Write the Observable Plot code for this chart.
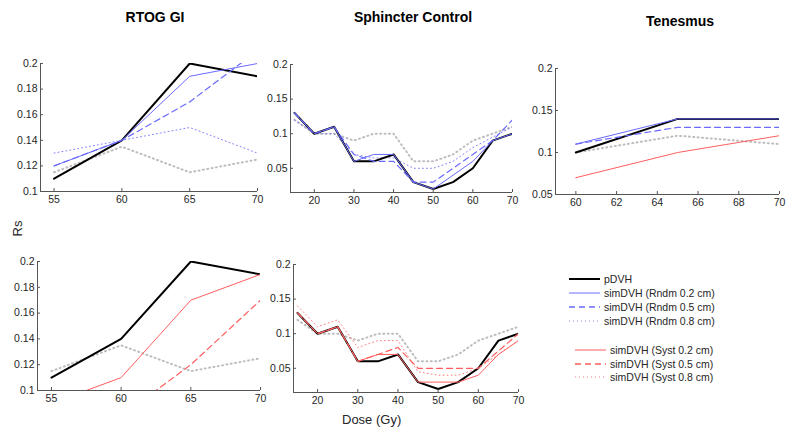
<!DOCTYPE html>
<html><head><meta charset="utf-8">
<script src="https://cdn.jsdelivr.net/npm/d3@7"></script>
<script src="https://cdn.jsdelivr.net/npm/@observablehq/plot@0.6"></script>
<style>
body{margin:0;background:#fff;font-family:"Liberation Sans",Arial,sans-serif;}
#root{position:relative;width:788px;height:433px;overflow:hidden;background:#fff;}
.panel{position:absolute;}
.title{position:absolute;font-weight:bold;font-size:14px;color:#000;transform:translateX(-50%);white-space:nowrap;line-height:1;}
.lab{position:absolute;font-size:13px;color:#262626;white-space:nowrap;line-height:1;}
.leg{position:absolute;font-size:10.5px;color:#262626;white-space:nowrap;display:flex;align-items:center;height:14px;}
.leg svg{display:block;margin-right:3px;}
</style></head>
<body><div id="root"></div>
<script>
// ---------- data ----------
const doseRTOG = [55, 60, 65, 70];
const doseSphincter = [15, 20, 25, 30, 35, 40, 45, 50, 55, 60, 65, 70];
const doseTenesmus = [60, 65, 70];

const rtogPDVH   = [0.11, 0.14, 0.20, 0.19];
const rtogRndm02 = [0.12, 0.14, 0.19, 0.20];
const rtogRndm05 = [0.12, 0.14, 0.17, 0.21];
const rtogRndm08 = [0.13, 0.14, 0.15, 0.13];
const rtogGray   = [0.115, 0.135, 0.115, 0.125];
const rtogSyst02 = [0.09, 0.11, 0.17, 0.19];
const rtogSyst05 = [0.07, 0.08, 0.12, 0.17];

const sphPDVH   = [0.13, 0.10, 0.11, 0.06, 0.06, 0.07, 0.03, 0.02, 0.03, 0.05, 0.09, 0.10];
const sphRndm02 = [0.13, 0.10, 0.11, 0.06, 0.07, 0.07, 0.03, 0.02, 0.04, 0.06, 0.09, 0.10];
const sphRndm05 = [0.13, 0.10, 0.11, 0.07, 0.06, 0.06, 0.03, 0.03, 0.05, 0.07, 0.09, 0.12];
const sphRndm08 = [0.12, 0.10, 0.10, 0.07, 0.065, 0.065, 0.05, 0.05, 0.06, 0.08, 0.095, 0.11];
const sphGray   = [0.12, 0.10, 0.10, 0.09, 0.10, 0.10, 0.06, 0.06, 0.07, 0.09, 0.10, 0.11];
const sphSyst02 = [0.13, 0.10, 0.11, 0.06, 0.07, 0.07, 0.03, 0.03, 0.03, 0.04, 0.07, 0.09];
const sphSyst05 = [0.13, 0.10, 0.11, 0.06, 0.07, 0.08, 0.05, 0.05, 0.05, 0.05, 0.075, 0.10];
const sphSyst08 = [0.14, 0.11, 0.12, 0.08, 0.09, 0.09, 0.045, 0.04, 0.04, 0.05, 0.07, 0.09];

const tenPDVH   = [0.10, 0.14, 0.14];
const tenRndm02 = [0.11, 0.14, 0.14];
const tenRndm05 = [0.11, 0.13, 0.13];
const tenGray   = [0.10, 0.12, 0.11];
const tenSyst02 = [0.07, 0.10, 0.12];

const ticksRTOG = [55, 60, 65, 70];
const ticksSph  = [20, 30, 40, 50, 60, 70];
const ticksTen  = [60, 62, 64, 66, 68, 70];
const yTicksRTOG = [0.1, 0.12, 0.14, 0.16, 0.18, 0.2];
const yTicksSph  = [0.05, 0.1, 0.15, 0.2];
const yTicksTen  = [0.05, 0.1, 0.15, 0.2];

const legendItems = ["pDVH", "simDVH (Rndm 0.2 cm)", "simDVH (Rndm 0.5 cm)", "simDVH (Rndm 0.8 cm)",
                     "simDVH (Syst 0.2 cm)", "simDVH (Syst 0.5 cm)", "simDVH (Syst 0.8 cm)"];

// ---------- styles ----------
const BLUE = "#6a6aff", RED = "#ff5e5e";
const styles = {
  gray: {stroke: "#bdbdbd", strokeWidth: 2, strokeDasharray: "1,3.4"},
  pdvh: {stroke: "#000", strokeWidth: 2},
  r02: {stroke: BLUE, strokeWidth: 1},
  r05: {stroke: BLUE, strokeWidth: 1.2, strokeDasharray: "6,4"},
  r08: {stroke: "#8080ff", strokeWidth: 1, strokeDasharray: "1,3"},
  s02: {stroke: RED, strokeWidth: 1},
  s05: {stroke: RED, strokeWidth: 1.2, strokeDasharray: "6,4"},
  s08: {stroke: "#ff8080", strokeWidth: 1, strokeDasharray: "1,3"}
};

const root = document.getElementById("root");
const fmt = d => String(+d.toFixed(3));

function panel(o) {
  const marks = [];
  for (const [key, vals] of o.series) {
    const data = o.x.map((x, i) => ({x, y: vals[i]}));
    marks.push(Plot.line(data, {x: "x", y: "y", clip: true, ...styles[key]}));
  }
  const p = Plot.plot({
    width: o.width, height: o.height,
    marginLeft: o.ml, marginRight: o.mr, marginTop: o.mt, marginBottom: o.mb,
    style: {fontSize: "10.5px", fontFamily: "'Liberation Sans', Arial, sans-serif", color: "#262626", background: "transparent", overflow: "visible"},
    x: {domain: o.xDomain},
    y: {domain: o.yDomain},
    marks: [
      ...marks,
      Plot.ruleY([o.yDomain[0]], {stroke: "#555", strokeWidth: 1}),
      Plot.ruleX([o.xDomain[0]], {stroke: "#555", strokeWidth: 1}),
      Plot.axisX(o.xTicks, {tickSize: -3, tickFormat: () => "", label: null, stroke: "#555"}),
      Plot.axisY(o.yTicks, {tickSize: -3, tickFormat: () => "", label: null, stroke: "#555"}),
      Plot.axisX(o.xTicks, {tickSize: 0, tickPadding: 4, label: null, fill: "#262626"}),
      Plot.axisY(o.yTicks, {tickSize: 0, tickPadding: 3, label: null, tickFormat: fmt, fill: "#262626"})
    ]
  });
  const d = document.createElement("div");
  d.className = "panel";
  d.style.left = o.left + "px"; d.style.top = o.top + "px";
  d.appendChild(p);
  root.appendChild(d);
}

panel({x: doseRTOG, left: 0, top: 0, width: 270, height: 215, ml: 40, mr: 13, mt: 63, mb: 24,
  xDomain: [54, 70], yDomain: [0.1, 0.2], xTicks: ticksRTOG, yTicks: yTicksRTOG,
  series: [["gray", rtogGray], ["r08", rtogRndm08], ["pdvh", rtogPDVH], ["r05", rtogRndm05], ["r02", rtogRndm02]]});

panel({x: doseSphincter, left: 250, top: 0, width: 270, height: 215, ml: 40, mr: 8, mt: 64, mb: 23,
  xDomain: [14, 70], yDomain: [0.015, 0.2], xTicks: ticksSph, yTicks: yTicksSph,
  series: [["gray", sphGray], ["r08", sphRndm08], ["pdvh", sphPDVH], ["r05", sphRndm05], ["r02", sphRndm02]]});

panel({x: doseTenesmus, left: 520, top: 0, width: 268, height: 215, ml: 35, mr: 9, mt: 68, mb: 21,
  xDomain: [59, 70], yDomain: [0.05, 0.2], xTicks: ticksTen, yTicks: yTicksTen,
  series: [["gray", tenGray], ["s02", tenSyst02], ["pdvh", tenPDVH], ["r05", tenRndm05], ["r02", tenRndm02]]});

panel({x: doseRTOG, left: 0, top: 215, width: 270, height: 218, ml: 37, mr: 10, mt: 46, mb: 43,
  xDomain: [54, 70], yDomain: [0.1, 0.2], xTicks: ticksRTOG, yTicks: yTicksRTOG,
  series: [["gray", rtogGray], ["pdvh", rtogPDVH], ["s05", rtogSyst05], ["s02", rtogSyst02]]});

panel({x: doseSphincter, left: 250, top: 215, width: 278, height: 218, ml: 43, mr: 10, mt: 49, mb: 41,
  xDomain: [14, 70], yDomain: [0.015, 0.2], xTicks: ticksSph, yTicks: yTicksSph,
  series: [["gray", sphGray], ["s08", sphSyst08], ["pdvh", sphPDVH], ["s05", sphSyst05], ["s02", sphSyst02]]});

// ---------- titles & labels ----------
function addText(cls, txt, x, y, extra) {
  const d = document.createElement("div");
  d.className = cls; d.textContent = txt;
  d.style.left = x + "px"; d.style.top = y + "px";
  if (extra) Object.assign(d.style, extra);
  root.appendChild(d);
}
addText("title", "RTOG GI", 155, 10);
addText("title", "Sphincter Control", 413, 10);
addText("title", "Tenesmus", 680, 14);
addText("lab", "Dose (Gy)", 342, 413);
addText("lab", "Rs", 10, 222, {transform: "rotate(-90deg)", transformOrigin: "center"});

// ---------- legend ----------
const legKeys = ["pdvh", "r02", "r05", "r08", "s02", "s05", "s08"];
const legY = [272, 286, 300, 314, 343, 356.5, 370];
legendItems.forEach((t, i) => {
  const st = styles[legKeys[i]];
  const row = document.createElement("div");
  row.className = "leg";
  row.style.left = (i < 4 ? 569 : 575) + "px";
  row.style.top = legY[i] + "px";
  const ns = "http://www.w3.org/2000/svg";
  const svg = document.createElementNS(ns, "svg");
  svg.setAttribute("width", 32); svg.setAttribute("height", 14);
  const ln = document.createElementNS(ns, "line");
  ln.setAttribute("x1", 0); ln.setAttribute("x2", 31); ln.setAttribute("y1", 7); ln.setAttribute("y2", 7);
  ln.setAttribute("stroke", st.stroke);
  ln.setAttribute("stroke-width", legKeys[i] === "r05" || legKeys[i] === "s05" ? 1.4 : st.strokeWidth);
  if (st.strokeDasharray) ln.setAttribute("stroke-dasharray", st.strokeDasharray);
  svg.appendChild(ln);
  row.appendChild(svg);
  const sp = document.createElement("span");
  sp.textContent = t;
  row.appendChild(sp);
  root.appendChild(row);
});
</script>
</body></html>
